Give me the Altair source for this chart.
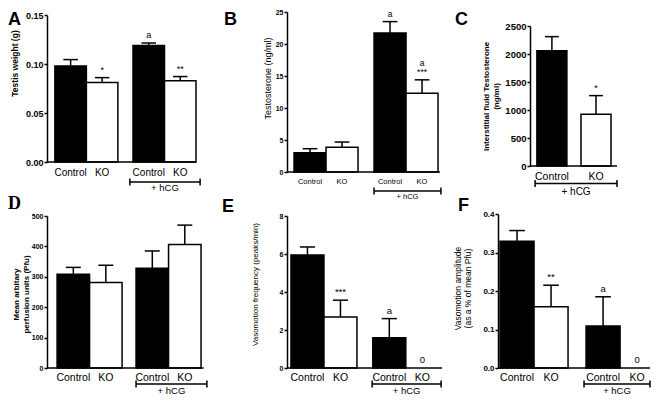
import altair as alt
import pandas as pd

FONT = "Liberation Sans"
CAP = 0.23

# ---- data ----
bar_labels = ["Control", "KO", "Control", "KO"]
bar_fills = ["black", "white", "black", "white"]
c_labels = ["Control", "KO"]
c_fills = ["black", "white"]
hcg_label = "+ hCG"

a_values = [0.098, 0.081, 0.119, 0.083]
a_errors = [0.0065, 0.0051, 0.0024, 0.0042]
a_notes = ["", "*", "a", "**"]
a_ticks = [0.0, 0.05, 0.10, 0.15]

b_values = [3.0, 3.85, 21.7, 12.3]
b_errors = [0.64, 0.83, 1.8, 2.1]
b_notes = ["", "", "a", "a\n***"]
b_ticks = [0, 5, 10, 15, 20, 25]

c_values = [2060, 925]
c_errors = [250, 332]
c_notes = ["", "*"]
c_ticks = [0, 500, 1000, 1500, 2000, 2500]

d_values = [308, 281, 328, 406]
d_errors = [23, 57, 57, 64]
d_notes = ["", "", "", ""]
d_ticks = [0, 100, 200, 300, 400, 500]

e_values = [5.95, 2.68, 1.59, 0.0]
e_errors = [0.42, 0.89, 1.01, 0.0]
e_notes = ["", "***", "a", "0"]
e_ticks = [0, 2, 4, 6, 8]

f_values = [0.329, 0.159, 0.109, 0.0]
f_errors = [0.028, 0.056, 0.076, 0.0]
f_notes = ["", "**", "a", "0"]
f_ticks = [0.0, 0.1, 0.2, 0.3, 0.4]


def panel(labels, fills, values, errors, notes, ticks, fmt, *, letter, letter_pos,
          letter_font=FONT, title, title_bold, title_size, title_pad, tick_size,
          lab_size, note_size, hcg_size, yrange, unit, x0, gap, end, bracket,
          width, height, lab_dy, br_dy, hcg_dy, shift=0, title_y=None):
    if len(values) == 4:
        lefts = [x0, x0 + 1, x0 + 2 + gap, x0 + 3 + gap]
    else:
        lefts = [x0, x0 + 1 + gap]
    low = [n.split("\n")[-1] for n in notes]
    high = [n.split("\n")[0] if "\n" in n else "" for n in notes]
    df = pd.DataFrame({"label": labels, "value": values, "err": errors,
                       "note": low, "note2": high, "fill": fills, "left": lefts})
    df["right"] = df["left"] + 1
    df["center"] = df["left"] + 0.5
    df["capl"] = df["center"] - CAP
    df["capr"] = df["center"] + CAP
    df["top"] = df["value"] + df["err"]
    df["base"] = 0.0

    xs = alt.Scale(domain=[0, end], range=[shift, shift + end * unit], nice=False, zero=False)
    ys = alt.Scale(domain=[0, ticks[-1]], range=list(yrange), nice=False, zero=True)
    axis_kw = dict(title=title, values=ticks, format=fmt, grid=False, offset=-shift,
                   domainColor="black", domainWidth=1.5, tickColor="black",
                   tickWidth=1.5, tickSize=3, labelFont=FONT,
                   labelFontSize=tick_size, labelFontWeight="bold",
                   labelColor="black", labelPadding=1, titleFont=FONT,
                   titleFontSize=title_size,
                   titleFontWeight="bold" if title_bold else "normal",
                   titleColor="black", titlePadding=title_pad,
                   titleLineHeight=title_size + 2)
    if title_y is not None:
        axis_kw["titleY"] = title_y
    yaxis = alt.Axis(**axis_kw)

    def X(f):
        return alt.X(f, scale=xs, axis=None)

    def Y(f):
        return alt.Y(f, scale=ys, axis=yaxis)

    bars = alt.Chart(df[df["value"] > 0]).mark_rect(stroke="black", strokeWidth=1.5).encode(
        x=X("left:Q"), x2="right:Q", y=Y("value:Q"), y2="base:Q",
        fill=alt.Fill("fill:N", scale=None))
    eb = df[df["err"] > 0]
    stems = alt.Chart(eb).mark_rule(color="black", strokeWidth=1.5).encode(
        x=X("center:Q"), y=Y("value:Q"), y2="top:Q")
    caps = alt.Chart(eb).mark_rule(color="black", strokeWidth=1.5).encode(
        x=X("capl:Q"), x2="capr:Q", y=Y("top:Q"))
    xline = alt.Chart(pd.DataFrame({"x": [0.0], "x2": [end], "y": [0.0]})).mark_rule(
        color="black", strokeWidth=1.5).encode(x=X("x:Q"), x2="x2:Q", y=Y("y:Q"))
    nt = df[df["note"] != ""]
    notes_l = alt.Chart(nt).mark_text(baseline="bottom", dy=-3,
                                      font=FONT, fontSize=note_size, color="black").encode(
        x=X("center:Q"), y=Y("top:Q"), text="note:N")
    nt2 = df[df["note2"] != ""]
    notes_h = alt.Chart(nt2).mark_text(baseline="bottom", dy=-3.5 - note_size,
                                       font=FONT, fontSize=note_size, color="black").encode(
        x=X("center:Q"), y=Y("top:Q"), text="note2:N")
    xlabels = alt.Chart(df).mark_text(baseline="top", dy=lab_dy, font=FONT,
                                      fontSize=lab_size, color="black").encode(
        x=X("center:Q"), y=Y("base:Q"), text="label:N")
    ybr = yrange[0] + br_dy
    br = pd.DataFrame({"b1": [bracket[0]], "b2": [bracket[1]],
                       "bc": [(bracket[0] + bracket[1]) / 2], "t": [hcg_label]})
    brl = alt.Chart(br).mark_rule(color="black", strokeWidth=1.5).encode(
        x=X("b1:Q"), x2="b2:Q", y=alt.value(ybr))
    bre = alt.Chart(pd.DataFrame({"xe": list(bracket)})).mark_rule(
        color="black", strokeWidth=1.5).encode(
        x=X("xe:Q"), y=alt.value(ybr - 3.5), y2=alt.value(ybr + 3.5))
    brt = alt.Chart(br).mark_text(baseline="top", font=FONT, fontSize=hcg_size,
                                  color="black").encode(
        x=X("bc:Q"), y=alt.value(ybr + hcg_dy), text="t:N")
    let = alt.Chart(pd.DataFrame({"t": [letter]})).mark_text(
        align="left", baseline="top", font=letter_font, fontSize=18,
        fontWeight="bold", color="black").encode(
        x=alt.value(letter_pos[0] + shift), y=alt.value(letter_pos[1]), text="t:N")
    layers = [bars, stems, caps, xline, notes_l]
    if len(nt2):
        layers.append(notes_h)
    layers += [xlabels, brl, bre, brt, let]
    return alt.layer(*layers).properties(width=width, height=height)


pA = panel(bar_labels, bar_fills, a_values, a_errors, a_notes, a_ticks, ".2f",
           letter="A", letter_pos=(-39, -1), title="Testis weight (g)", title_bold=True,
           title_size=8.5, title_pad=6, tick_size=9, lab_size=10, note_size=9, hcg_size=9.5,
           yrange=(150, 3), unit=31.5, x0=0.25, gap=0.48, end=4.73, bracket=(2.63, 4.86),
           width=240, height=160, lab_dy=6, br_dy=20, hcg_dy=1, title_y=51)
pB = panel(bar_labels, bar_fills, b_values, b_errors, b_notes, b_ticks, "d",
           letter="B", letter_pos=(-63, -1), title="Testosterone (ng/ml)", title_bold=False,
           title_size=9, title_pad=3, tick_size=7, lab_size=7.5, note_size=8.5, hcg_size=7.5,
           yrange=(160, 0), unit=32, x0=0.22, gap=0.5, end=4.78, bracket=(2.72, 4.81),
           width=211, height=160, lab_dy=5.5, br_dy=19, hcg_dy=2, title_y=66)
pC = panel(c_labels, c_fills, c_values, c_errors, c_notes, c_ticks, "d",
           letter="C", letter_pos=(-75, -1), shift=32,
           title=["Interstitial fluid Testosterone", "(ng/ml)"], title_bold=True,
           title_size=8, title_pad=4, tick_size=9.5, lab_size=10.5, note_size=9, hcg_size=10,
           yrange=(154, 14), unit=30, x0=0.23, gap=0.47, end=2.9, bracket=(0.17, 2.9),
           width=150, height=160, lab_dy=5.5, br_dy=17.5, hcg_dy=3)
pD = panel(bar_labels, bar_fills, d_values, d_errors, d_notes, d_ticks, "d",
           letter="D", letter_pos=(-39, -13), letter_font="Liberation Serif",
           title=["Mean arbitary", "perfusion units (Pfu)"], title_bold=True,
           title_size=8, title_pad=1, tick_size=7, lab_size=10.5, note_size=9, hcg_size=9.5,
           yrange=(160, 8), unit=32.5, x0=0.31, gap=0.43, end=4.82, bracket=(2.74, 4.92),
           width=240, height=160, lab_dy=5, br_dy=16, hcg_dy=1.5, title_y=86)
pE = panel(bar_labels, bar_fills, e_values, e_errors, e_notes, e_ticks, "d",
           letter="E", letter_pos=(-65, -10), title="Vasomotion frequency (peaks/min)",
           title_bold=False, title_size=8, title_pad=20, tick_size=7, lab_size=10.5,
           note_size=9.5, hcg_size=9.5,
           yrange=(160, 8), unit=33, x0=0.12, gap=0.48, end=4.7, bracket=(2.58, 4.67),
           width=211, height=160, lab_dy=5, br_dy=16, hcg_dy=1.5, title_y=76)
pF = panel(bar_labels, bar_fills, f_values, f_errors, f_notes, f_ticks, ".1f",
           letter="F", letter_pos=(-40, -11),
           title=["Vasomotion amplitude", "(as a % of mean Pfu)"], title_bold=False,
           title_size=8.5, title_pad=10, tick_size=8, lab_size=10.5, note_size=9.5, hcg_size=9.5,
           yrange=(160, 6), unit=34, x0=0.06, gap=0.53, end=4.47, bracket=(2.53, 4.47),
           width=150, height=160, lab_dy=5, br_dy=16, hcg_dy=1.5, title_y=80)

chart = alt.concat(pA, pB, pC, pD, pE, pF, columns=3,
                   spacing=alt.RowColnumber(row=36, column=0),
                   bounds="flush").properties(
    padding=0, background="white").configure_view(stroke=None)

chart.save("out.html", embed_options={"renderer": "svg", "actions": False})
